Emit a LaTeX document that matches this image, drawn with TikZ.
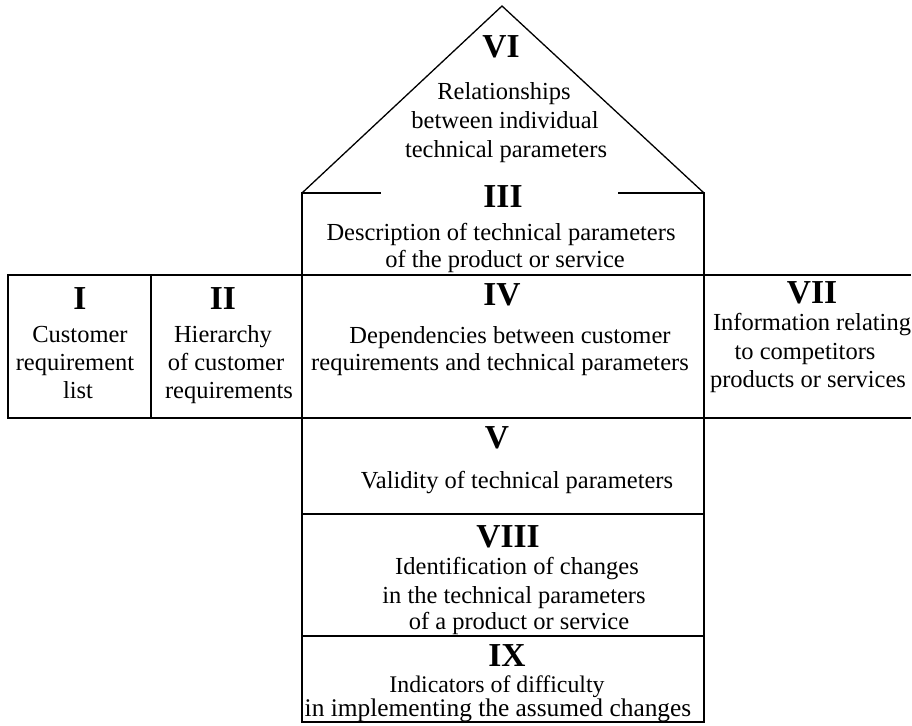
\documentclass[tikz,border=0pt]{standalone}
\usepackage{fontspec}
\setmainfont{Liberation Serif}
\begin{document}
\begin{tikzpicture}[x=1pt,y=-1pt,
  frame/.style={line width=2pt, line cap=rect},
  heavy/.style={line width=2.6pt, line cap=rect},
  roof/.style={line width=1.3pt, line join=miter},
  numeral/.style={anchor=base, inner sep=0pt, font=\fontsize{33.5}{36}\selectfont\bfseries},
  body/.style={anchor=base, inner sep=0pt, font=\fontsize{24.5}{28}\selectfont}]
\useasboundingbox (0,0) rectangle (912,725);

% roof over the central column
\coordinate (apex) at (502,6);
\coordinate (eaveL) at (302,193);
\coordinate (eaveR) at (704,193);
\draw[roof] (eaveL) -- (apex) -- (eaveR);

% upper edge of block III, open in the middle
\coordinate (gapL) at (380,193);
\coordinate (gapR) at (619,193);
\draw[frame] (eaveL) -- (gapL);
\draw[frame] (gapR) -- (eaveR);

% walls of the central column
\coordinate (footL) at (302,722);
\coordinate (footR) at (704,722);
\draw[frame] (eaveL) -- (footL);
\draw[frame] (eaveR) -- (footR);

% the wide middle row
\coordinate (rowTL) at (8,275);
\coordinate (rowTR) at (910,275);
\coordinate (rowBL) at (8,418);
\coordinate (rowBR) at (910,418);
\coordinate (divT) at (151,275);
\coordinate (divB) at (151,418);
\draw[frame] (rowTL) -- (rowTR);
\draw[frame] (rowBL) -- (rowBR);
\draw[frame] (rowTL) -- (rowBL);
\draw[frame] (divT) -- (divB);

% rows below the middle row
\coordinate (vL) at (302,514);
\coordinate (vR) at (704,514);
\coordinate (viiiL) at (302,636);
\coordinate (viiiR) at (704,636);
\draw[frame] (vL) -- (vR);
\draw[heavy] (viiiL) -- (viiiR);
\draw[frame] (footL) -- (footR);

% VI
\node[numeral] (n6) at (501,57) {VI};
\node[body] (t6a) at (504,99) {Relationships};
\node[body] (t6b) at (505,128) {between individual};
\node[body] (t6c) at (506,157) {technical parameters};

% III
\node[numeral] (n3) at (503,207) {III};
\node[body] (t3a) at (501,240) {Description of technical parameters};
\node[body] (t3b) at (505,267) {of the product or service};

% I
\node[numeral] (n1) at (80,309) {I};
\node[body] (t1a) at (80,342) {Customer};
\node[body] (t1b) at (75,370) {requirement};
\node[body] (t1c) at (78,398) {list};

% II
\node[numeral] (n2) at (223,309) {II};
\node[body] (t2a) at (223,342) {Hierarchy};
\node[body] (t2b) at (226,370) {of customer};
\node[body] (t2c) at (229,398) {requirements};

% IV
\node[numeral] (n4) at (502,305) {IV};
\node[body] (t4a) at (510,343) {Dependencies between customer};
\node[body] (t4b) at (500,370) {requirements and technical parameters};

% VII
\node[numeral] (n7) at (812,303) {VII};
\node[body] (t7a) at (812,330) {Information relating};
\node[body] (t7b) at (805,359) {to competitors};
\node[body] (t7c) at (808,387) {products or services};

% V
\node[numeral] (n5) at (497,448) {V};
\node[body] (t5) at (517,488) {Validity of technical parameters};

% VIII
\node[numeral] (n8) at (508,547) {VIII};
\node[body] (t8a) at (517,574) {Identification of changes};
\node[body] (t8b) at (514,603) {in the technical parameters};
\node[body] (t8c) at (519,629) {of a product or service};

% IX
\node[numeral] (n9) at (507,666) {IX};
\node[body, font=\fontsize{23.8}{28}\selectfont] (t9a) at (497,692) {Indicators of difficulty};
\node[body, font=\fontsize{25.4}{28}\selectfont] (t9b) at (498,716) {in implementing the assumed changes};
\end{tikzpicture}
\end{document}
